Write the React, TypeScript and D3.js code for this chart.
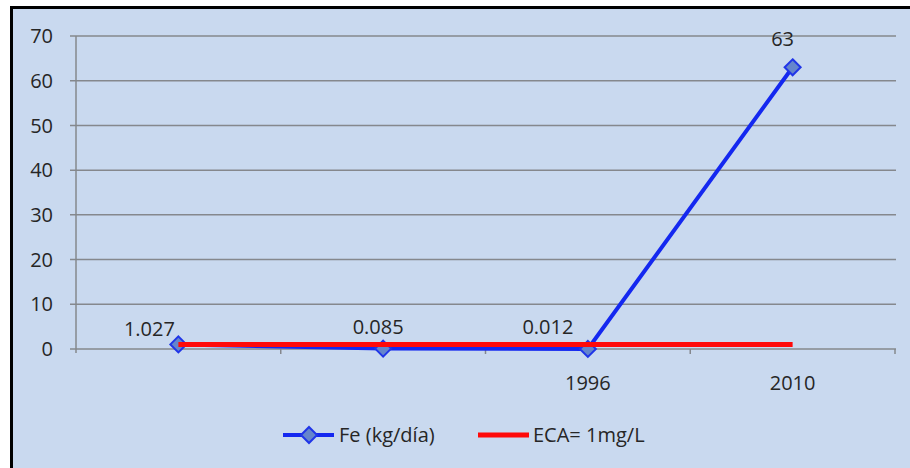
import React from "react";
import * as d3 from "d3";

// Categories along the x axis (first two are unlabelled)
const categories = ["a", "b", "1996", "2010"];
const categoryLabels = ["", "", "1996", "2010"];
// Iron load series (kg/día)
const feValues = [1.027, 0.085, 0.012, 63];
const feLabels = ["1.027", "0.085", "0.012", "63"];
// Environmental quality standard
const ecaValues = [1, 1, 1, 1];
// Y axis ticks
const yTicks = [0, 10, 20, 30, 40, 50, 60, 70];
// Nudges for the data labels
const labelDx = [-29, -5, -40, -10];
const labelDy = [-8, -15, -15, -21];

const W = 910;
const H = 468;
const FONT = "'Open Sans', 'Noto Sans', sans-serif";
const FS = 20;

export default function App() {
  const x = d3.scaleBand<string>().domain(categories).range([76, 895]);
  const y = d3.scaleLinear().domain([0, 70]).range([349, 36]);
  const cx = (c: string) => (x(c) as number) + x.bandwidth() / 2;

  const line = d3
    .line<number>()
    .x((_, i) => cx(categories[i]))
    .y((d) => y(d));

  const diamond = (px: number, py: number, r: number) =>
    `M${px},${py - r}L${px + r},${py}L${px},${py + r}L${px - r},${py}Z`;

  const gridColor = "#85888d";
  const textColor = "#262626";

  return (
    <div style={{ position: "fixed", left: 0, top: 0 }}>
      <svg width={W} height={H} style={{ display: "block" }}>
        <rect x={0} y={0} width={W} height={H} fill="#ffffff" />
        <rect x={11} y={8} width={W - 11} height={H - 8} fill="#c9d9ef" />
        {/* frame: top and left edges */}
        <line x1={11} y1={7.5} x2={W} y2={7.5} stroke="#000" strokeWidth={3} />
        <line x1={11.5} y1={6} x2={11.5} y2={H} stroke="#000" strokeWidth={3} />

        {/* gridlines */}
        {yTicks.map((t) => (
          <line
            key={t}
            x1={70}
            x2={896}
            y1={y(t)}
            y2={y(t)}
            stroke={gridColor}
            strokeWidth={1.5}
          />
        ))}
        {/* y axis */}
        <line x1={76} x2={76} y1={36} y2={353} stroke={gridColor} strokeWidth={1.5} />
        {/* category ticks */}
        {categories.map((c) => {
          const xe = (x(c) as number) + x.bandwidth();
          return (
            <line
              key={c}
              x1={xe}
              x2={xe}
              y1={349}
              y2={354}
              stroke={gridColor}
              strokeWidth={1.5}
            />
          );
        })}

        {/* y tick labels */}
        {yTicks.map((t) => (
          <text
            key={t}
            x={53}
            y={y(t)}
            dy="0.36em"
            textAnchor="end"
            fontFamily={FONT}
            fontSize={FS}
            fill={textColor}
          >
            {t}
          </text>
        ))}
        {/* x labels */}
        {categories.map((c, i) => (
          <text
            key={c}
            x={cx(c)}
            y={390}
            textAnchor="middle"
            fontFamily={FONT}
            fontSize={FS}
            fill={textColor}
          >
            {categoryLabels[i]}
          </text>
        ))}

        {/* Fe series */}
        <path d={line(feValues) as string} fill="none" stroke="#1428f0" strokeWidth={4} />
        {feValues.map((v, i) => (
          <path
            key={i}
            d={diamond(cx(categories[i]), y(v), 8)}
            fill="#6585cc"
            stroke="#2035e8"
            strokeWidth={2}
          />
        ))}
        {/* ECA series */}
        <path d={line(ecaValues) as string} fill="none" stroke="#ff0a0a" strokeWidth={5} />

        {/* data labels */}
        {feValues.map((v, i) => (
          <text
            key={i}
            x={cx(categories[i]) + labelDx[i]}
            y={y(v) + labelDy[i]}
            textAnchor="middle"
            fontFamily={FONT}
            fontSize={FS}
            fill={textColor}
          >
            {feLabels[i]}
          </text>
        ))}

        {/* legend */}
        <g fontFamily={FONT} fontSize={FS} fill={textColor}>
          <line x1={283} x2={334} y1={435} y2={435} stroke="#1428f0" strokeWidth={4} />
          <path d={diamond(309, 435, 8)} fill="#6585cc" stroke="#2035e8" strokeWidth={2} />
          <text x={339} y={435} dy="0.36em">
            Fe (kg/día)
          </text>
          <line x1={478} x2={529} y1={435} y2={435} stroke="#ff0a0a" strokeWidth={5} />
          <text x={533} y={435} dy="0.36em">
            ECA= 1mg/L
          </text>
        </g>
      </svg>
    </div>
  );
}
